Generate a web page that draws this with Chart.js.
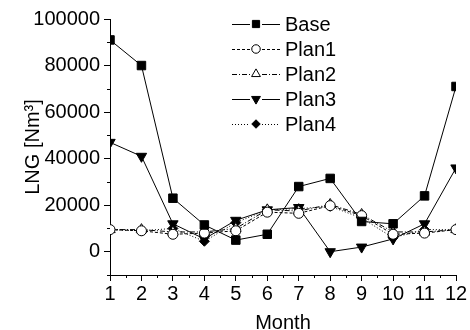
<!DOCTYPE html>
<html>
<head>
<meta charset="utf-8">
<script src="https://cdn.jsdelivr.net/npm/chart.js@4.4.1/dist/chart.umd.min.js"></script>
<style>
  html, body { margin: 0; padding: 0; background: #fff; }
  #wrap { width: 470px; height: 330px; position: relative; }
</style>
</head>
<body>
<div id="wrap"><canvas id="lngChart"></canvas></div>
<script>
// monthly LNG values per plan
const months = [1, 2, 3, 4, 5, 6, 7, 8, 9, 10, 11, 12];
const base  = [91000, 80000, 23000, 11500, 5000, 7500, 28000, 31500, 13000, 12000, 24000, 71000];
const plan1 = [9500, 9000, 7500, 8000, 9000, 17000, 16500, 19800, 15500, 7500, 8000, 9500];
const plan2 = [9500, 9500, 8500, 8500, 10000, 18000, 17500, 20300, 16000, 8500, 8500, 9500];
const plan3 = [47000, 41000, 12000, 5500, 13500, 18000, 19000, 0, 2000, 5500, 12000, 36000];
const plan4 = [9500, 9000, 10000, 4500, 12500, 18000, 18500, 19500, 14500, 6000, 9500, 9500];
const yTicks = [0, 20000, 40000, 60000, 80000, 100000];

const FONT = '"Liberation Sans", Arial, sans-serif';

function pts(arr) {
    return arr.map((v, i) => ({ x: months[i], y: v }));
}

// legend drawn like the original: line - marker - line, then label
const legendPlugin = {
    id: 'lineLegend',
    afterDraw(chart) {
        const ctx = chart.ctx;
        ctx.save();
        chart.data.datasets.forEach((ds, i) => {
            const y = 24 + i * 25;
            ctx.strokeStyle = '#000';
            ctx.lineWidth = 1;
            ctx.setLineDash(ds.borderDash || []);
            ctx.beginPath();
            ctx.moveTo(232, y + 0.5); ctx.lineTo(250, y + 0.5);
            ctx.moveTo(262, y + 0.5); ctx.lineTo(280, y + 0.5);
            ctx.stroke();
            ctx.setLineDash([]);
            ctx.fillStyle = ds.pointBackgroundColor;
            ctx.strokeStyle = '#000';
            Chart.helpers.drawPoint(ctx, {
                pointStyle: ds.pointStyle,
                rotation: ds.pointRotation || 0,
                radius: ds.pointRadius * 0.85,
                borderWidth: 1
            }, 256, y);
            ctx.fillStyle = '#000';
            ctx.font = '20px ' + FONT;
            ctx.textBaseline = 'middle';
            ctx.fillText(ds.label, 285, y + 1);
        });
        ctx.restore();
    }
};

// minor tick marks on both axes
const minorTicks = {
    id: 'minorTicks',
    afterDraw(chart) {
        const ctx = chart.ctx;
        const xs = chart.scales.x, ys = chart.scales.y;
        ctx.save();
        ctx.strokeStyle = '#000';
        ctx.lineWidth = 1;
        ctx.beginPath();
        for (let m = 1.5; m < 12; m += 1) {
            const px = Math.round(xs.getPixelForValue(m)) + 0.5;
            ctx.moveTo(px, ys.bottom); ctx.lineTo(px, ys.bottom + 3);
        }
        for (let v = -10000; v <= 100000; v += 20000) {
            const py = Math.round(ys.getPixelForValue(v)) + 0.5;
            ctx.moveTo(xs.left, py); ctx.lineTo(xs.left - 3, py);
        }
        ctx.stroke();
        ctx.restore();
    }
};

const ctx = document.getElementById('lngChart').getContext('2d');
const chart = new Chart(ctx, {
    type: 'line',
    data: {
        datasets: [
            { label: 'Base', data: pts(base), pointStyle: 'rect', pointRadius: 6,
              pointBackgroundColor: '#000', borderDash: [] },
            { label: 'Plan1', data: pts(plan1), pointStyle: 'circle', pointRadius: 5,
              pointBackgroundColor: '#fff', borderDash: [3, 2] },
            { label: 'Plan2', data: pts(plan2), pointStyle: 'triangle', pointRadius: 6,
              pointBackgroundColor: '#fff', borderDash: [5, 2, 1, 2] },
            { label: 'Plan3', data: pts(plan3), pointStyle: 'triangle', pointRotation: 180, pointRadius: 6,
              pointBackgroundColor: '#000', borderDash: [] },
            { label: 'Plan4', data: pts(plan4), pointStyle: 'rectRot', pointRadius: 5,
              pointBackgroundColor: '#000', borderDash: [1, 2] }
        ].map(d => Object.assign({
            borderColor: '#000', borderWidth: 1, pointBorderColor: '#000',
            pointBorderWidth: 1, tension: 0, fill: false
        }, d))
    },
    options: {
        responsive: true,
        maintainAspectRatio: false,
        animation: false,
        layout: { padding: { top: 19, right: 14, left: 0, bottom: 0 } },
        plugins: { legend: { display: false }, tooltip: { enabled: false } },
        scales: {
            x: {
                type: 'linear', min: 1, max: 12,
                afterFit: s => { s.height = 55; },
                ticks: { stepSize: 1, color: '#000', padding: 1, font: { family: FONT, size: 20 } },
                grid: { drawOnChartArea: false, drawTicks: true, tickLength: 6, color: '#000' },
                border: { color: '#000', width: 1 },
                title: { display: true, text: 'Month', color: '#000', padding: { top: 0, bottom: -3 },
                         font: { family: FONT, size: 20, lineHeight: 1 } }
            },
            y: {
                min: -10000, max: 100000,
                afterFit: s => { s.width = 110; },
                afterBuildTicks: s => { s.ticks = yTicks.map(v => ({ value: v })); },
                ticks: { color: '#000', padding: 4, font: { family: FONT, size: 20 },
                         callback: v => String(v) },
                grid: { drawOnChartArea: false, drawTicks: true, tickLength: 6, color: '#000' },
                border: { color: '#000', width: 1 },
                title: { display: true, text: 'LNG [Nm³]', color: '#000', padding: { top: 23, bottom: 23 },
                         font: { family: FONT, size: 20, lineHeight: 1 } }
            }
        }
    },
    plugins: [legendPlugin, minorTicks]
});
</script>
</body>
</html>
